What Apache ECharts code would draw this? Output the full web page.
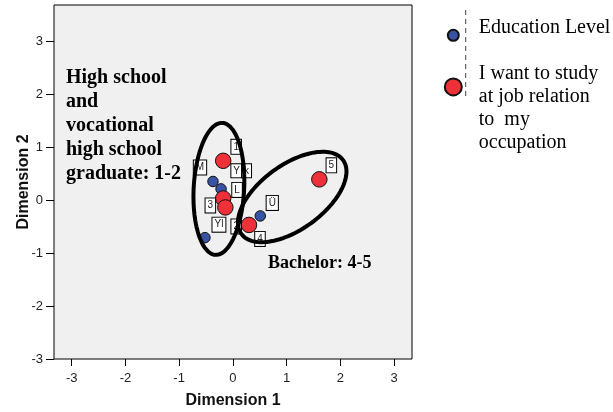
<!DOCTYPE html>
<html>
<head>
<meta charset="utf-8">
<script src="https://cdn.jsdelivr.net/npm/echarts@6/dist/echarts.min.js"></script>
<style>
html,body{margin:0;padding:0;background:#fff;}
#chart{width:613px;height:412px;}
</style>
</head>
<body>
<div id="chart"></div>
<script>
// ---- data ----
const xTicks = [-3, -2, -1, 0, 1, 2, 3];
const yTicks = [-3, -2, -1, 0, 1, 2, 3];
const eduName = 'Education Level';
const eduLabels = ['M', 'L', 'Ü', 'Yl', 'Yk'];
const eduDim1 = [-0.37, -0.22, 0.51, -0.52, -0.18];
const eduDim2 = [0.35, 0.21, -0.30, -0.71, 0.74];
const jobName = 'I want to study at job relation to my occupation';
const jobLabels = ['1', '2', '3', '4', '5'];
const jobDim1 = [-0.18, -0.18, -0.14, 0.30, 1.61];
const jobDim2 = [0.74, 0.03, -0.14, -0.47, 0.39];

// ---- annotation layout (not data) ----
const eduLabelOffsets = [[-13, -14], [16, 1], [12, -13], [14, -13], [18, 10]];
const jobLabelOffsets = [[13, -14], [13, 28], [-15, -2], [11, 14], [12, -14]];
// ellipses: [centerX, centerY, semiMajor, semiMinor, angleDeg] in data units
const ellipses = [
  [-0.26, 0.21, 1.23, 0.47, 87],
  [1.105, 0.057, 1.17, 0.60, 36]
];

const labelBox = {
  show: true,
  position: 'inside',
  fontFamily: 'Liberation Sans, Arial, sans-serif',
  fontSize: 10,
  lineHeight: 11,
  color: '#222',
  backgroundColor: '#fff',
  borderColor: '#000',
  borderWidth: 1,
  padding: [2, 2, 1, 2]
};

function buildPoints(xs, ys, labels, offsets) {
  return xs.map((x, i) => {
    const item = { value: [x, ys[i]], name: labels[i],
      label: Object.assign({}, labelBox, { offset: offsets[i], formatter: labels[i] }) };
    if (labels[i] === 'Yk') {
      item.label.formatter = '{a|Y}{b|k}';
      item.label.backgroundColor = 'transparent';
      item.label.borderWidth = 0;
      item.label.padding = 0;
      const seg = { fontFamily: 'Liberation Sans, Arial, sans-serif', fontSize: 10, lineHeight: 11,
        color: '#222', backgroundColor: '#fff', borderColor: '#000', borderWidth: 1, padding: [2, 2, 1, 2] };
      item.label.rich = { a: seg, b: seg };
    }
    return item;
  });
}

const chart = echarts.init(document.getElementById('chart'), null, { renderer: 'canvas' });

const axisText = { fontFamily: 'Liberation Sans, Arial, sans-serif', fontSize: 13, color: '#222' };
const nameText = { fontFamily: 'Liberation Sans, Arial, sans-serif', fontSize: 16, fontWeight: 'bold', color: '#111' };
const serif = 'Liberation Serif, Times New Roman, serif';

chart.setOption({
  animation: false,
  backgroundColor: '#fff',
  grid: {
    left: 54, top: 5, width: 358, height: 354,
    outerBoundsMode: 'none', containLabel: false,
    show: true, backgroundColor: '#f0f0f0', borderColor: '#000', borderWidth: 1
  },
  xAxis: {
    type: 'value', min: -3.33, max: 3.335,
    name: 'Dimension 1', nameLocation: 'middle', nameGap: 34, nameTextStyle: nameText,
    nameMoveOverlap: false,
    axisLine: { show: false, onZero: false },
    splitLine: { show: false },
    axisTick: { show: true, length: 7, lineStyle: { color: '#000' }, customValues: xTicks },
    axisLabel: Object.assign({ margin: 13, customValues: xTicks }, axisText)
  },
  yAxis: {
    type: 'value', min: -3, max: 3.68,
    name: 'Dimension 2', nameLocation: 'middle', nameGap: 22, nameTextStyle: nameText,
    nameMoveOverlap: false,
    axisLine: { show: false, onZero: false },
    splitLine: { show: false },
    axisTick: { show: true, length: 8, lineStyle: { color: '#000' }, customValues: yTicks },
    axisLabel: Object.assign({ margin: 11, customValues: yTicks }, axisText)
  },
  legend: [
    {
      left: 446.8, top: 17.3, orient: 'vertical', padding: 0,
      itemWidth: 41, itemHeight: 11,
      data: [eduName],
      formatter: () => '{t|' + eduName + '}\n{s| }',
      textStyle: { rich: {
        t: { fontFamily: serif, fontSize: 20, lineHeight: 22, color: '#000' },
        s: { fontFamily: serif, fontSize: 10, lineHeight: 16 }
      } }
    },
    {
      left: 443.8, top: 36.3, orient: 'vertical', padding: 0,
      itemWidth: 41, itemHeight: 17,
      data: [jobName],
      formatter: () => '{s| }\n{t|I want to study}\n{t|at job relation}\n{t|to  my}\n{t|occupation}',
      textStyle: { rich: {
        t: { fontFamily: serif, fontSize: 20, lineHeight: 22.8, color: '#000' },
        s: { fontFamily: serif, fontSize: 10, lineHeight: 43 }
      } }
    }
  ],
  graphic: [
    { type: 'line', shape: { x1: 465.7, y1: 10, x2: 465.7, y2: 100 },
      style: { stroke: '#444', lineWidth: 1, lineDash: [5, 4] } },
    { type: 'text', left: 66, top: 66,
      style: { text: 'High school\nand\nvocational\nhigh school\ngraduate: 1-2',
        font: 'bold 20px ' + serif, lineHeight: 24, fill: '#000' } },
    { type: 'text', left: 268, top: 252,
      style: { text: 'Bachelor: 4-5', font: 'bold 18px ' + serif, lineHeight: 22, fill: '#000' } }
  ],
  series: [
    {
      name: eduName, type: 'scatter', symbol: 'circle', symbolSize: 10.5,
      itemStyle: { color: '#3953a4', borderColor: '#111', borderWidth: 1, opacity: 1 },
      data: buildPoints(eduDim1, eduDim2, eduLabels, eduLabelOffsets)
    },
    {
      name: jobName, type: 'scatter', symbol: 'circle', symbolSize: 15.5,
      itemStyle: { color: '#ee3039', borderColor: '#111', borderWidth: 1, opacity: 1 },
      data: buildPoints(jobDim1, jobDim2, jobLabels, jobLabelOffsets)
    },
    {
      type: 'custom', z: 10, silent: true,
      data: ellipses,
      renderItem: function (params, api) {
        const c = api.coord([api.value(0), api.value(1)]);
        const p0 = api.coord([0, 0]);
        const p1 = api.coord([1, 1]);
        const sx = p1[0] - p0[0];
        const a = api.value(2) * sx, b = api.value(3) * sx;
        const th = api.value(4) * Math.PI / 180;
        const u = [Math.cos(th), -Math.sin(th)], v = [Math.sin(th), Math.cos(th)];
        const pts = [];
        for (let k = 0; k < 120; k++) {
          const t = k / 120 * Math.PI * 2;
          const ex = a * Math.cos(t), ey = b * Math.sin(t);
          pts.push([c[0] + ex * u[0] + ey * v[0], c[1] + ex * u[1] + ey * v[1]]);
        }
        return { type: 'polygon', shape: { points: pts },
          style: { fill: 'none', stroke: '#000', lineWidth: 4 } };
      }
    }
  ]
});
</script>
</body>
</html>
